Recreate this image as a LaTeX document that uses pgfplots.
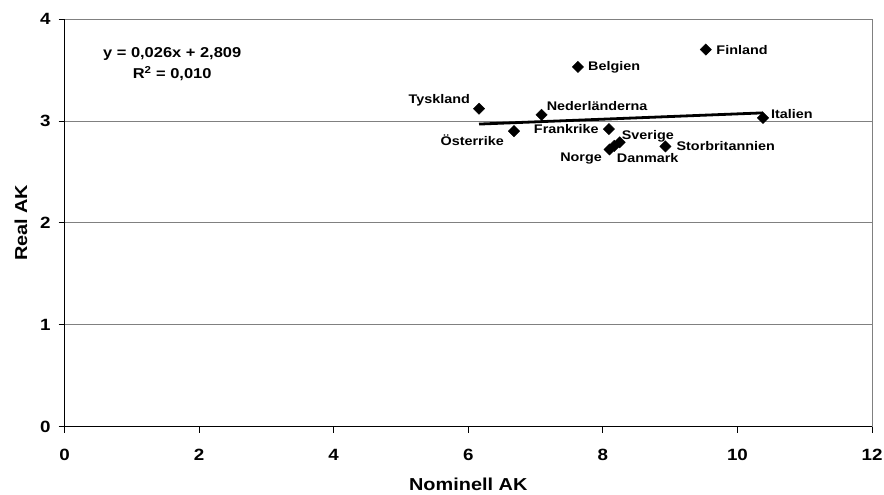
\documentclass[border=0pt]{standalone}
\usepackage{fontspec}
\setmainfont{Liberation Sans}[FakeStretch=1.15]
\usepackage{pgfplots}
\usepackage{pgfplotstable}
\pgfplotsset{compat=1.18}
\pgfplotstableread{
x y
6.16 3.12
6.68 2.90
7.09 3.06
7.63 3.53
8.09 2.92
8.25 2.79
8.10 2.72
8.17 2.755
8.93 2.75
9.53 3.70
10.38 3.03
}\pts
\begin{document}
\begin{tikzpicture}[lbl/.style={inner sep=0pt, font=\fontsize{12.5bp}{14bp}\selectfont\bfseries}]
\useasboundingbox (-64.5bp,-68.3bp) rectangle (819.5bp,426.7bp);
\begin{axis}[at={(0,0)}, anchor=south west, scale only axis,
  width=807.5bp, height=407.7bp,
  xmin=0, xmax=12, ymin=0, ymax=4,
  xtick={0,2,...,12}, ytick={0,1,2,3,4},
  axis lines=left, axis line style={-, line width=1.2bp, black},
  tick align=outside, major tick length=6bp,
  tick style={black, line width=0.8bp},
  ymajorgrids, major grid style={draw=gray, line width=0.8bp},
  extra x ticks={12}, extra x tick labels={},
  extra x tick style={grid=major},
  /pgf/number format/assume math mode=true,
  ticklabel style={font=\fontsize{16.3bp}{18bp}\selectfont\bfseries},
  xticklabel style={yshift=-13bp},
  yticklabel style={xshift=-4.5bp},
  xlabel={Nominell AK}, ylabel={Real AK},
  label style={font=\fontsize{17.3bp}{20bp}\selectfont\bfseries},
  xlabel style={at={(axis description cs:0.5,-0.1553)}, anchor=base},
  ylabel style={at={(axis description cs:-0.0462,0.5)}, anchor=base},
  clip=false,
]
\addplot[only marks, mark=square*, mark size=4bp,
  mark options={rotate=45, fill=black, draw=black}]
  table[x=x, y=y]{\pts};
\addplot[black, line width=2.8bp, no marks] coordinates {(6.16,2.969) (10.38,3.079)};
\node[lbl, anchor=east, xshift=-9bp, yshift=8bp] at (axis cs:6.16,3.12) {Tyskland};
\node[lbl, anchor=east, xshift=-10bp, yshift=-9bp] at (axis cs:6.68,2.90) {Österrike};
\node[lbl, anchor=west, xshift=5bp, yshift=9bp] at (axis cs:7.09,3.06) {Nederländerna};
\node[lbl, anchor=west, xshift=10bp] at (axis cs:7.63,3.53) {Belgien};
\node[lbl, anchor=east, xshift=-10bp] at (axis cs:8.09,2.92) {Frankrike};
\node[lbl, anchor=west, xshift=2bp, yshift=6bp] at (axis cs:8.25,2.79) {Sverige};
\node[lbl, anchor=east, xshift=-7.5bp, yshift=-9bp] at (axis cs:8.10,2.72) {Norge};
\node[lbl, anchor=west, xshift=2.5bp, yshift=-12.5bp] at (axis cs:8.17,2.755) {Danmark};
\node[lbl, anchor=west, xshift=11bp] at (axis cs:8.93,2.75) {Storbritannien};
\node[lbl, anchor=west, xshift=10.5bp] at (axis cs:9.53,3.70) {Finland};
\node[lbl, anchor=west, xshift=8bp, yshift=4bp] at (axis cs:10.38,3.03) {Italien};
\node[align=center, font=\fontsize{14.3bp}{21bp}\selectfont\bfseries]
  at (axis cs:1.6,3.56) {y = 0,026x + 2,809\\R\textsuperscript{2} = 0,010};
\end{axis}
\end{tikzpicture}
\end{document}
